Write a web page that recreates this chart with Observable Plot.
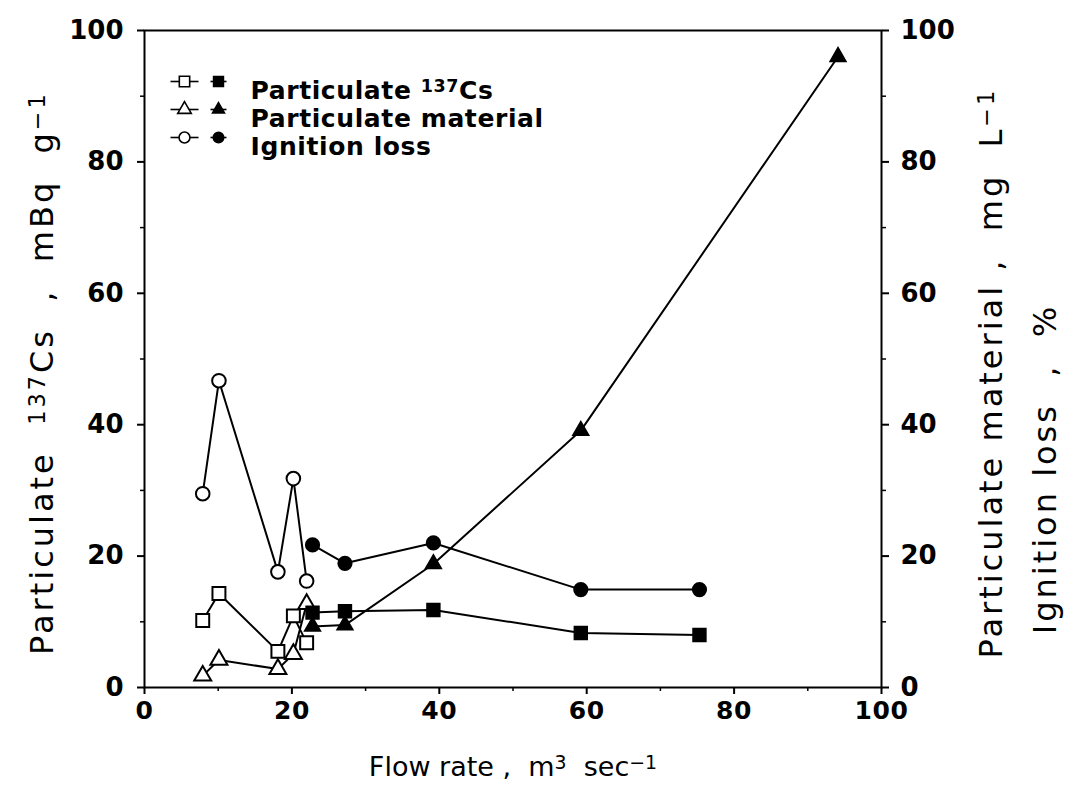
<!DOCTYPE html>
<html>
<head>
<meta charset="utf-8">
<script src="https://cdn.jsdelivr.net/npm/d3@7"></script>
<script src="https://cdn.jsdelivr.net/npm/@observablehq/plot@0.6"></script>
<style>
  html, body { margin: 0; padding: 0; background: #fff; }
  #chart svg { display: block; }
</style>
</head>
<body>
<div id="chart"></div>
<script>
// Flow rate (m3 sec-1) for the low-flow (open symbols) and high-flow (filled symbols) samples
const flowLow = [7.9, 10.1, 18.1, 20.2, 22.0];
const flowHigh = [22.8, 27.2, 39.2, 59.2, 75.3];
const flowHighMaterial = [22.8, 27.2, 39.2, 59.2, 94.1];

// Particulate 137Cs, mBq g-1 (left axis)
const cs137Low = [10.2, 14.3, 5.5, 10.9, 6.8];
const cs137High = [11.4, 11.6, 11.8, 8.3, 8.0];

// Particulate material, mg L-1 (right axis)
const materialLow = [1.8, 4.2, 2.8, 5.1, 12.7];
const materialHigh = [9.3, 9.5, 18.8, 39.1, 96.0];

// Ignition loss, % (right axis)
const ignitionLow = [29.5, 46.7, 17.6, 31.8, 16.2];
const ignitionHigh = [21.7, 18.9, 22.0, 14.9, 14.9];

const majorTicks = [0, 20, 40, 60, 80, 100];
const minorTicks = [10, 30, 50, 70, 90];

const legendLabels = ["Particulate \u00B9\u00B3\u2077Cs", "Particulate material", "Ignition loss"];
const legendSymbols = ["square", "triangle", "circle"];

const NB = "\u00A0";
const xTitle = `Flow rate ,${NB}${NB}m\u00B3${NB}${NB}sec\u207B\u00B9`;
const leftTitle = `Particulate${NB}${NB}\u00B9\u00B3\u2077Cs${NB}${NB},${NB}${NB}mBq${NB}${NB}g\u207B\u00B9`;
const rightTitle1 = `Particulate material${NB},${NB}${NB}mg${NB}${NB}L\u207B\u00B9`;
const rightTitle2 = `Ignition${NB}loss${NB}${NB},${NB}${NB}%`;

const toPoints = (xs, ys) => xs.map((x, i) => ({x, y: ys[i]}));

const symbolSize = {square: 7.3, triangle: 6.3, circle: 6.8};
const filledSize = {square: 7.0, triangle: 5.6, circle: 6.6};

function series(xs, ys, symbol, filled) {
  const pts = toPoints(xs, ys);
  return [
    Plot.line(pts, {x: "x", y: "y", stroke: "black", strokeWidth: 2}),
    Plot.dot(pts, {
      x: "x", y: "y", symbol: () => symbol,
      r: filled ? filledSize[symbol] : symbolSize[symbol],
      fill: filled ? "black" : "white", stroke: "black", strokeWidth: 2
    })
  ];
}

// short horizontal stroke used as the connector in legend keys
const dash = half => ({draw(context) { context.moveTo(-half, 0); context.lineTo(half, 0); }});

// Legend rows drawn inside the frame, anchored at its top-left corner
function legendRow(i) {
  const symbol = legendSymbols[i];
  const dy = 51 + i * 28;
  const row = [legendLabels[i]];
  const at = dx => ({frameAnchor: "top-left", dx, dy});
  return [
    Plot.dot(row, {...at(40), symbol: dash(14), r: 5, fill: "none", stroke: "black", strokeWidth: 1.6}),
    Plot.dot(row, {...at(74), symbol: dash(8), r: 5, fill: "none", stroke: "black", strokeWidth: 1.6}),
    Plot.dot(row, {...at(40), symbol: () => symbol, r: symbolSize[symbol] * 0.8, fill: "white", stroke: "black", strokeWidth: 1.6}),
    Plot.dot(row, {...at(74), symbol: () => symbol, r: filledSize[symbol] * 0.8, fill: "black", stroke: "black"}),
    Plot.text(row, {...at(106), text: d => d, textAnchor: "start", fontSize: 25, fontWeight: "bold", fill: "black"})
  ];
}

const titleFont = "'DejaVu Sans', sans-serif";

const chart = Plot.plot({
  width: 1076,
  height: 804,
  marginTop: 30,
  marginLeft: 144,
  marginRight: 195,
  marginBottom: 117,
  x: {domain: [0, 100]},
  y: {domain: [0, 100]},
  style: {fontFamily: "'DejaVu Sans', sans-serif", color: "black", background: "white", overflow: "visible"},
  marks: [
    Plot.frame({stroke: "black", strokeWidth: 2}),
    // bottom axis
    Plot.axisX({ticks: majorTicks, tickSize: 7, tickPadding: 7, tickFormat: d => d, fontSize: 25, fontWeight: "bold", label: null, strokeWidth: 2}),
    Plot.axisX({ticks: minorTicks, tickSize: 4, text: null, label: null, strokeWidth: 1.5}),
    // left axis
    Plot.axisY({ticks: majorTicks, tickSize: 7, tickPadding: 14, tickFormat: d => d, fontSize: 26, fontWeight: "bold", label: null, strokeWidth: 2}),
    Plot.axisY({ticks: minorTicks, tickSize: 4, text: null, label: null, strokeWidth: 1.5}),
    // right axis
    Plot.axisY({anchor: "right", ticks: majorTicks, tickSize: 7, tickPadding: 12, tickFormat: d => d, fontSize: 26, fontWeight: "bold", label: null, strokeWidth: 2}),
    Plot.axisY({anchor: "right", ticks: minorTicks, tickSize: 4, text: null, label: null, strokeWidth: 1.5}),

    // axis titles
    Plot.text([xTitle], {frameAnchor: "bottom", dy: 88, fontSize: 27, fill: "black", fontFamily: titleFont}),
    Plot.text([leftTitle], {frameAnchor: "left", textAnchor: "middle", dx: -102, dy: 14, rotate: -90, fontSize: 32, fill: "black", fontFamily: titleFont}),
    Plot.text([rightTitle1], {frameAnchor: "right", textAnchor: "middle", dx: 110, dy: 14, rotate: -90, fontSize: 32, fill: "black", fontFamily: titleFont}),
    Plot.text([rightTitle2], {frameAnchor: "right", textAnchor: "middle", dx: 164, dy: 110, rotate: -90, fontSize: 32, fill: "black", fontFamily: titleFont}),

    // data series
    ...series(flowLow, ignitionLow, "circle", false),
    ...series(flowLow, cs137Low, "square", false),
    ...series(flowLow, materialLow, "triangle", false),
    ...series(flowHigh, ignitionHigh, "circle", true),
    ...series(flowHigh, cs137High, "square", true),
    ...series(flowHighMaterial, materialHigh, "triangle", true),

    // legend
    ...legendSymbols.flatMap((s, i) => legendRow(i))
  ]
});

document.getElementById("chart").appendChild(chart);

// widen the tracking of the rotated axis titles and the legend text
d3.select(chart).selectAll("g[font-size='32'] text").style("letter-spacing", "3px");
d3.select(chart).selectAll("g[font-size='25'][font-weight='bold'] text").style("letter-spacing", "0.6px");

// typeset superscript characters (isotope mass number, exponents) as raised tspans
const supMap = {"\u00B9": "1", "\u00B2": "2", "\u00B3": "3", "\u2077": "7", "\u207B": "\u2212"};
d3.select(chart).selectAll("text").each(function () {
  const el = this;
  if (el.querySelector("tspan")) return;
  const s = el.textContent;
  if (![...s].some(c => c in supMap)) return;
  const runs = [];
  for (const c of s) {
    const sup = c in supMap;
    const last = runs[runs.length - 1];
    if (last && last.sup === sup) last.text += sup ? supMap[c] : c;
    else runs.push({sup, text: sup ? supMap[c] : c});
  }
  el.textContent = "";
  for (const r of runs) {
    const t = document.createElementNS("http://www.w3.org/2000/svg", "tspan");
    t.textContent = r.text;
    if (r.sup) {
      t.setAttribute("baseline-shift", "38%");
      t.setAttribute("font-size", "70%");
    }
    el.appendChild(t);
  }
});
</script>
</body>
</html>
